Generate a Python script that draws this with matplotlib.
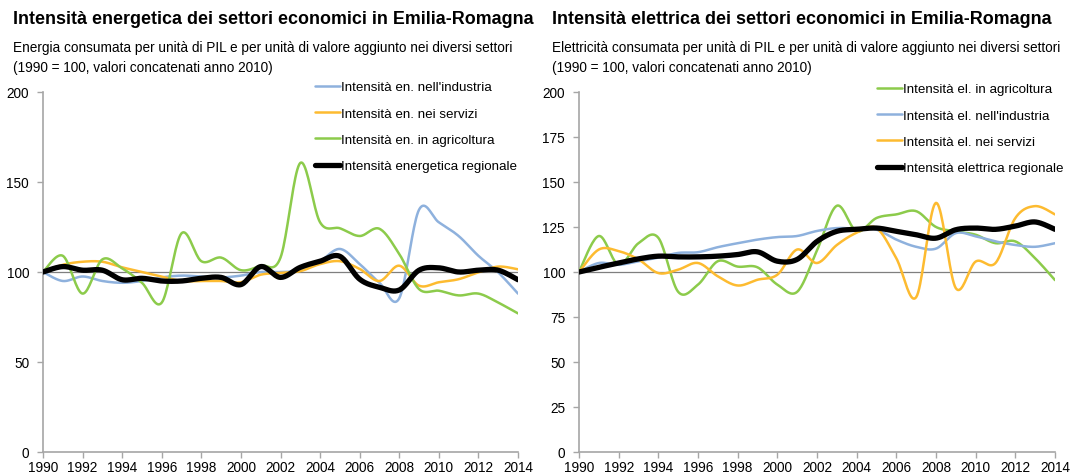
import numpy as np
import matplotlib
matplotlib.use("Agg")
import matplotlib.pyplot as plt

plt.rcParams['font.family'] = ['Liberation Sans', 'DejaVu Sans']

years = list(range(1990, 2015))

# Left chart: energy intensity (1990 = 100)
en_industria = [100, 95, 97.5, 95, 94, 95, 97, 98, 97.5, 97, 98, 100, 100,
                101, 106, 112.8, 104.4, 94, 85.4, 134.6, 127.6, 120, 109, 99.8, 88]
en_servizi = [100, 104, 105.7, 105.7, 102.6, 100, 97.5, 95, 95, 95, 94.3, 98.5, 99.5,
              100.5, 104.4, 106, 101.7, 95, 103.5, 92.4, 94.3, 96, 99.8, 103, 101.5]
en_agricoltura = [100, 109, 88, 107, 102, 94, 83, 121.5, 106, 108, 101, 103.5, 108,
                  160.6, 127.6, 124.3, 120, 124, 110, 90.5, 89.6, 87, 88, 83, 77]
en_regionale = [100, 103, 101, 101, 95.7, 96.5, 95, 95, 96.5, 97, 93, 103, 97,
                102.6, 106, 108.7, 96, 91.5, 90, 101, 102.3, 100, 101, 101, 95.7]

# Right chart: electricity intensity (1990 = 100)
el_agricoltura = [100, 120, 104, 116, 119, 89, 93, 106, 103, 102.6, 93, 89, 112,
                  136.8, 122.6, 130, 132, 133.8, 125, 122.6, 120.7, 116, 117, 107.6, 95.5]
el_industria = [100, 105, 104, 106, 108, 110.6, 111, 113.8, 116, 118, 119.4, 120, 122.8,
                124.4, 124, 123.5, 118, 114, 113, 121.6, 119.8, 117, 115, 114, 116]
el_servizi = [100, 112.5, 111.6, 107, 99.4, 101.3, 105, 97.6, 92.5, 95.7, 98.5, 112.5, 105,
              115, 121.8, 124.4, 107.6, 86, 138.4, 91, 105.8, 105, 130, 136.6, 132]
el_regionale = [100, 102.6, 105, 107.3, 108.8, 108.4, 108.4, 108.8, 109.7, 111.2, 106, 107, 117,
                122.6, 123.7, 124.4, 122.6, 120.7, 118.8, 123.5, 124.4, 123.7, 125.5, 127.8, 123.7]

x_ticks = list(range(1990, 2015, 2))

BLUE = '#8EB1DD'
ORANGE = '#FDBB30'
GREEN = '#8CCB4B'
BLACK = '#000000'
GRAY = '#A6A6A6'


def smooth(xs, ys, n=20):
    """Excel-style smoothed line (Catmull-Rom Bezier)."""
    xs = np.asarray(xs, float)
    ys = np.asarray(ys, float)
    P = np.column_stack([xs, ys])
    out = []
    m = len(P)
    t = np.linspace(0, 1, n, endpoint=False)
    for i in range(m - 1):
        p0 = P[i - 1] if i > 0 else P[i]
        p1 = P[i]
        p2 = P[i + 1]
        p3 = P[i + 2] if i + 2 < m else P[i + 1]
        c1 = p1 + (p2 - p0) / 6.0
        c2 = p2 - (p3 - p1) / 6.0
        tt = t[:, None]
        seg = ((1 - tt) ** 3) * p1 + 3 * ((1 - tt) ** 2) * tt * c1 + 3 * (1 - tt) * tt ** 2 * c2 + tt ** 3 * p2
        out.append(seg)
    out.append(P[-1][None, :])
    out = np.vstack(out)
    return out[:, 0], out[:, 1]


fig = plt.figure(figsize=(10.72, 4.77), dpi=100)

axL = fig.add_axes([43 / 1072, 24 / 477, 475 / 1072, 360 / 477])
axR = fig.add_axes([579 / 1072, 24 / 477, 476 / 1072, 360 / 477])


def style(ax, yticks):
    ax.set_xlim(1990, 2014)
    ax.set_ylim(0, 200)
    ax.set_xticks(x_ticks)
    ax.set_yticks(yticks)
    ax.set_yticklabels([str(v) for v in yticks])
    ax.set_xticklabels([str(v) for v in x_ticks])
    for s in ['top', 'right']:
        ax.spines[s].set_visible(False)
    for s in ['left', 'bottom']:
        ax.spines[s].set_color(GRAY)
        ax.spines[s].set_linewidth(1.2)
    ax.tick_params(axis='both', colors=GRAY, labelcolor='black', labelsize=9.8,
                   length=4, width=1, direction='out')
    ax.tick_params(axis='x', pad=2)
    ax.tick_params(axis='y', pad=6)
    ax.axhline(100, color='#7F7F7F', lw=0.9, zorder=1)
    ax.patch.set_alpha(0)


style(axL, [0, 50, 100, 150, 200])
style(axR, [0, 25, 50, 75, 100, 125, 150, 175, 200])

left_series = [
    (en_industria, BLUE, 1.8, "Intensità en. nell'industria"),
    (en_servizi, ORANGE, 1.8, "Intensità en. nei servizi"),
    (en_agricoltura, GREEN, 1.8, "Intensità en. in agricoltura"),
    (en_regionale, BLACK, 3.8, "Intensità energetica regionale"),
]
right_series = [
    (el_agricoltura, GREEN, 1.8, "Intensità el. in agricoltura"),
    (el_industria, BLUE, 1.8, "Intensità el. nell'industria"),
    (el_servizi, ORANGE, 1.8, "Intensità el. nei servizi"),
    (el_regionale, BLACK, 3.8, "Intensità elettrica regionale"),
]

for ax, series in [(axL, left_series), (axR, right_series)]:
    for ys, c, lw, lab in series:
        sx, sy = smooth(years, ys)
        ax.plot(sx, sy, color=c, lw=lw, label=lab, zorder=3, solid_capstyle='round')

legkw = dict(loc='upper left', bbox_transform=fig.transFigure, frameon=False,
             handlelength=1.9, handletextpad=0.05, labelspacing=1.05,
             borderpad=0, borderaxespad=0, fontsize=9.6)
axL.legend(bbox_to_anchor=(315 / 1072, 1 - 82 / 477), **legkw)
axR.legend(bbox_to_anchor=(877 / 1072, 1 - 84 / 477), **legkw)

# Titles and subtitles
fig.text(13 / 1072, 1 - 20 / 477, "Intensità energetica dei settori economici in Emilia-Romagna",
         fontsize=12.9, fontweight='bold', va='center', ha='left')
fig.text(13 / 1072, 1 - 48 / 477,
         "Energia consumata per unità di PIL e per unità di valore aggiunto nei diversi settori",
         fontsize=9.8, va='center', ha='left')
fig.text(13 / 1072, 1 - 68 / 477, "(1990 = 100, valori concatenati anno 2010)",
         fontsize=9.8, va='center', ha='left')

fig.text(552 / 1072, 1 - 20 / 477, "Intensità elettrica dei settori economici in Emilia-Romagna",
         fontsize=12.9, fontweight='bold', va='center', ha='left')
fig.text(552 / 1072, 1 - 48 / 477,
         "Elettricità consumata per unità di PIL e per unità di valore aggiunto nei diversi settori",
         fontsize=9.8, va='center', ha='left')
fig.text(552 / 1072, 1 - 68 / 477, "(1990 = 100, valori concatenati anno 2010)",
         fontsize=9.8, va='center', ha='left')

fig.savefig("out.png", dpi=100)
